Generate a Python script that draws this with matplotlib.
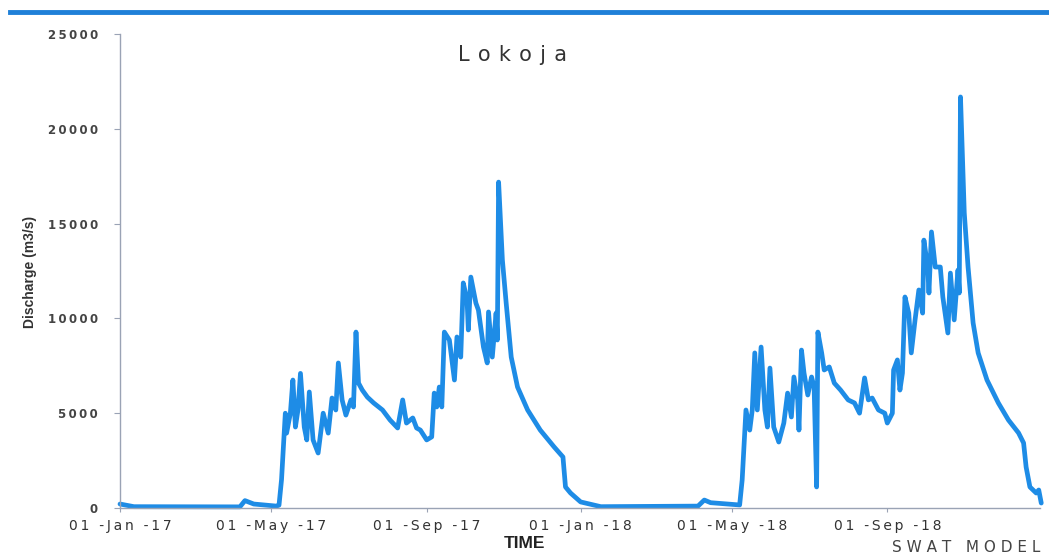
import numpy as np
import pandas as pd
import matplotlib
matplotlib.use("Agg")
import matplotlib.pyplot as plt
import matplotlib.dates as mdates
from matplotlib.lines import Line2D

# ---------------- data ----------------
start_date = "2017-01-01"
day_offsets = [
    0, 11, 95, 99, 106, 124, 126, 128, 131, 132, 135, 137, 139, 141, 143, 146, 148, 150,
    153, 157, 161, 165, 168, 171, 173, 176, 179, 183, 185, 187, 189, 192, 196, 201, 208,
    214, 220, 224, 227, 232, 235, 238, 243, 247, 249, 251, 253, 255, 257, 261, 265, 267,
    270, 272, 275, 276, 278, 282, 284, 288, 291, 292, 295, 298, 299, 300, 303, 306, 310,
    315, 323, 333, 344, 351, 353, 357, 365, 381,
    458, 463, 468, 491, 493, 496, 499, 501, 503, 505, 508, 511, 513, 515, 518, 522, 526,
    529, 532, 534, 537, 538, 540, 542, 545, 548, 550, 552, 553, 556, 558, 562, 566, 571,
    577, 582, 586, 590, 593, 596, 601, 606, 608, 612, 613, 616, 618, 620, 622, 625, 627,
    630, 633, 636, 637, 640, 641, 643, 646, 650, 652, 656, 658, 661, 664, 665, 666, 669,
    672, 676, 680, 687, 696, 704, 712, 716, 718, 721, 726, 728, 730,
]
discharge = [
    210, 70, 60, 390, 210, 100, 150, 1500, 5000, 3950, 5000, 6750, 4270, 5170, 7100, 4270, 3590, 6120,
    3590, 2900, 5000, 3950, 5800, 5170, 7650, 5700, 4900, 5700, 5330, 9280, 6590, 6220, 5850, 5540, 5170,
    4640, 4220, 5700, 4480, 4750, 4220, 4110, 3590, 3750, 6060, 5330, 6380, 5330, 9280, 8860, 6750, 9020,
    7960, 11870, 10970, 9390, 12180, 10810, 10440, 8490, 7650, 10340, 7960, 10280, 8860, 17190, 13080, 10810, 7960,
    6380, 5170, 4110, 3220, 2690, 1110, 790, 320, 70,
    100, 420, 280, 160, 1480, 5170, 4110, 5170, 8180, 5170, 8490, 5170, 4270, 7380, 4270, 3480, 4480,
    6060, 4800, 6910, 5700, 4110, 8330, 7120, 5960, 6910, 6380, 1110, 9280, 8180, 7280, 7440, 6590, 6220,
    5700, 5540, 5000, 6860, 5700, 5800, 5170, 5000, 4480, 5000, 7280, 7810, 6220, 7120, 11130, 10280, 8180,
    9920, 11500, 10280, 14130, 12710, 11340, 14560, 12710, 12710, 11130, 9230, 12390, 9920, 12550, 11340, 21680, 15560,
    12710, 9760, 8180, 6750, 5540, 4640, 3960, 3430, 2160, 1110, 790, 950, 260,
]
y_ticks = [0, 5000, 10000, 15000, 20000, 25000]
x_tick_dates = ["2017-01-01", "2017-05-01", "2017-09-01", "2018-01-01", "2018-05-01", "2018-09-01"]
x_tick_labels = ["01 -Jan -17", "01 -May -17", "01 -Sep -17", "01 -Jan -18", "01 -May -18", "01 -Sep -18"]
title = "Lokoja"
y_label = "Discharge (m3/s)"
x_label = "TIME"
footer = "SWAT MODEL"

# ---------------- drawing ----------------
def spaced(s, sep="\u2009"):
    return sep.join(list(s))

dates = pd.Timestamp(start_date) + pd.to_timedelta(day_offsets, unit="D")

fig = plt.figure(figsize=(10.49, 5.59), dpi=100)
fig.patch.set_facecolor("white")

ax = fig.add_axes([120 / 1049, 1 - 508 / 559, (1040 - 120) / 1049, (508 - 34) / 559])
ax.plot(dates, discharge, color="#1e8ce6", linewidth=3.4, solid_joinstyle="round",
        solid_capstyle="round", clip_on=False)

ax.set_ylim(0, 25000)
ax.set_xlim(pd.Timestamp("2017-01-01"), pd.Timestamp("2018-12-31"))

ax.set_yticks(y_ticks)
ax.set_yticklabels([spaced(str(v)) for v in y_ticks], fontsize=8.5, color="#444444",
                   fontweight="bold", family="DejaVu Sans")
ax.set_xticks(pd.to_datetime(x_tick_dates))
ax.set_xticklabels([spaced(s) for s in x_tick_labels], fontsize=10, color="#333333",
                   family="DejaVu Sans")

for side in ["top", "right"]:
    ax.spines[side].set_visible(False)
for side in ["left", "bottom"]:
    ax.spines[side].set_color("#9aa3b5")
    ax.spines[side].set_linewidth(1.0)
ax.tick_params(axis="y", length=4, color="#9aa3b5", pad=12)
ax.tick_params(axis="x", length=3, color="#9aa3b5", pad=5)

fig.text(513 / 1049, 1 - 55 / 559, spaced(title, "\u2009\u2009"), fontsize=15, color="#333333",
         ha="center", va="center", family="DejaVu Sans")
fig.text(30 / 1049, 1 - 272 / 559, y_label, fontsize=10, fontweight="bold", rotation=90,
         color="#333333", ha="center", va="center", family="Liberation Sans")
fig.text(524 / 1049, 1 - 543 / 559, x_label, fontsize=12.5, fontweight="bold",
         color="#222222", ha="center", va="center", family="Liberation Sans")
fig.text(1040 / 1049, 1 - 547 / 559, spaced(footer, " "), fontsize=11, color="#444444",
         ha="right", va="center", family="DejaVu Sans")

# top blue rule
fig.add_artist(Line2D([10 / 1049, 1.0], [1 - 12 / 559, 1 - 12 / 559], color="#1f80d8",
                      linewidth=3.5, transform=fig.transFigure))

fig.savefig("out.png", dpi=100, facecolor="white")
